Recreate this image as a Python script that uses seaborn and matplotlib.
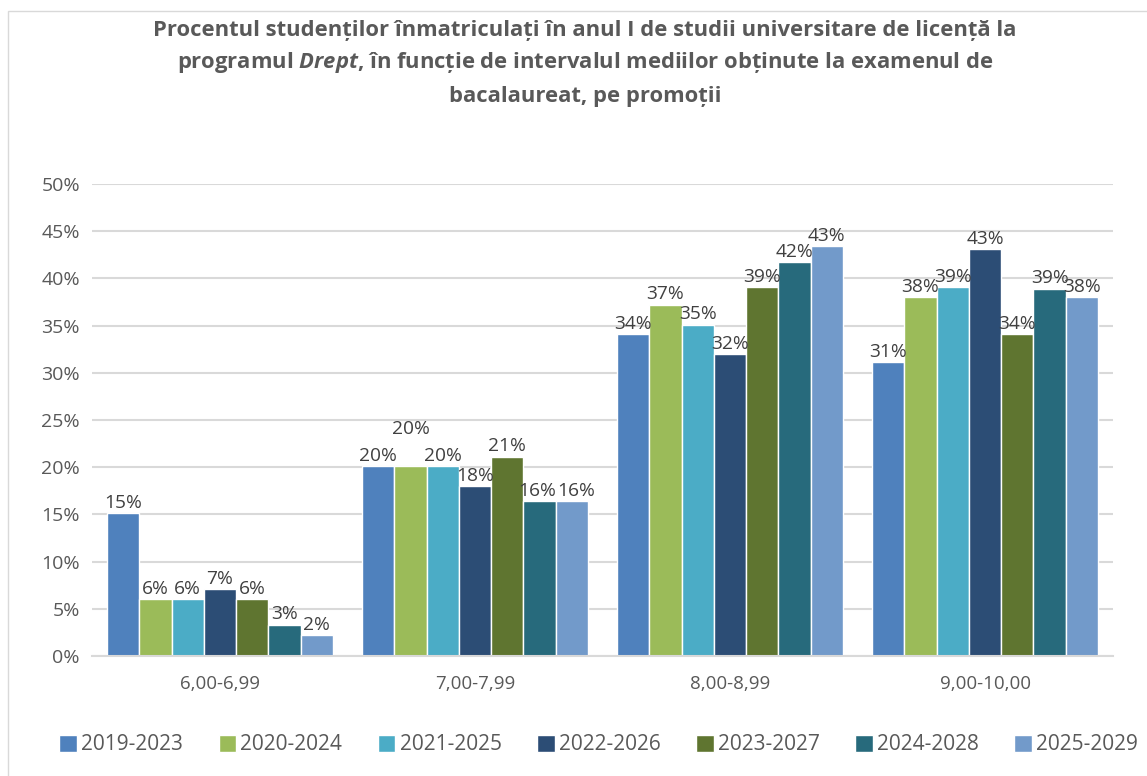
import pandas as pd
import seaborn as sns
import matplotlib.pyplot as plt
from matplotlib.patches import Rectangle

# intervale de medii la bacalaureat
intervale = ["6,00-6,99", "7,00-7,99", "8,00-8,99", "9,00-10,00"]
promotii = ["2019-2023", "2020-2024", "2021-2025", "2022-2026",
            "2023-2027", "2024-2028", "2025-2029"]

# procente, cate o lista pe promotie
p2019 = [15.1, 20.1, 34.1, 31.1]
p2020 = [6.0, 20.1, 37.2, 38.0]
p2021 = [6.0, 20.1, 35.1, 39.1]
p2022 = [7.1, 18.0, 32.0, 43.1]
p2023 = [6.0, 21.1, 39.1, 34.1]
p2024 = [3.3, 16.4, 41.7, 38.9]
p2025 = [2.2, 16.4, 43.4, 38.0]

culori = ["#4F81BD", "#9BBB59", "#4BACC6", "#2C4D75",
          "#5F7530", "#276A7C", "#729ACA"]

serii = [p2019, p2020, p2021, p2022, p2023, p2024, p2025]
rows = []
for prom, vals in zip(promotii, serii):
    for interv, v in zip(intervale, vals):
        rows.append({"interval": interv, "promotie": prom, "procent": v / 100})
df = pd.DataFrame(rows)

sns.set_theme(style="white")
plt.rcParams["font.family"] = ["Open Sans", "DejaVu Sans"]
plt.rcParams["mathtext.fontset"] = "custom"
plt.rcParams["mathtext.it"] = "Open Sans:italic:bold"
plt.rcParams["mathtext.rm"] = "Open Sans:bold"

fig = plt.figure(figsize=(11.47, 7.76), dpi=100)
ax = fig.add_axes([0.0806, 0.1546, 0.8894, 0.6083])

sns.barplot(data=df, x="interval", y="procent", hue="promotie",
            palette=culori, width=0.886, saturation=1, ax=ax,
            errorbar=None)

ax.set_ylim(0, 0.5)
ax.set_yticks([i * 0.05 for i in range(11)])
ax.set_yticklabels([f"{i * 5}%" for i in range(11)])
ax.yaxis.grid(True, color="#D9D9D9", linewidth=1.5)
ax.set_axisbelow(True)
for s in ["top", "right", "left"]:
    ax.spines[s].set_visible(False)
ax.spines["bottom"].set_color("#D9D9D9")
ax.spines["bottom"].set_linewidth(1.5)
ax.tick_params(axis="both", length=0, labelcolor="#595959")
ax.tick_params(axis="x", pad=14, labelsize=13.5)
ax.tick_params(axis="y", pad=9, labelsize=14)
ax.set_xlabel("")
ax.set_ylabel("")

# etichete de date
etichete = []
for cont, vals in zip(ax.containers, serii):
    anns = ax.bar_label(cont, labels=[f"{v:.0f}%" for v in vals],
                        padding=1, fontsize=13.8, color="#404040")
    etichete.append(anns)

# Excel a mutat cateva etichete ca sa nu se suprapuna
etichete[1][1].xyann = (0, 20)
etichete[5][1].xyann = (-2, 1)
etichete[6][1].xyann = (3, 1)

ax.legend(handles=ax.get_legend_handles_labels()[0], labels=promotii,
          loc="center", bbox_to_anchor=(0.522, 0.04),
          bbox_transform=fig.transFigure, ncol=7, frameon=False,
          fontsize=15, labelcolor="#595959", handlelength=0.85,
          handleheight=0.85, handletextpad=0.2, columnspacing=1.7)

titlu = dict(ha="center", va="center", fontsize=15.8, fontweight="bold", color="#595959")
fig.text(0.51, 0.961, "Procentul studenților înmatriculați în anul I de studii universitare de licență la", **titlu)
fig.text(0.51, 0.919, r"programul $\mathit{Drept}$, în funcție de intervalul mediilor obținute la examenul de", **titlu)
fig.text(0.51, 0.876, "bacalaureat, pe promoții", **titlu)

fig.add_artist(Rectangle((8 / 1147, -0.05), 1.2, 1.05 - 11 / 776,
                         transform=fig.transFigure, fill=False,
                         edgecolor="#D9D9D9", linewidth=1))

fig.savefig("out.png", dpi=100)
